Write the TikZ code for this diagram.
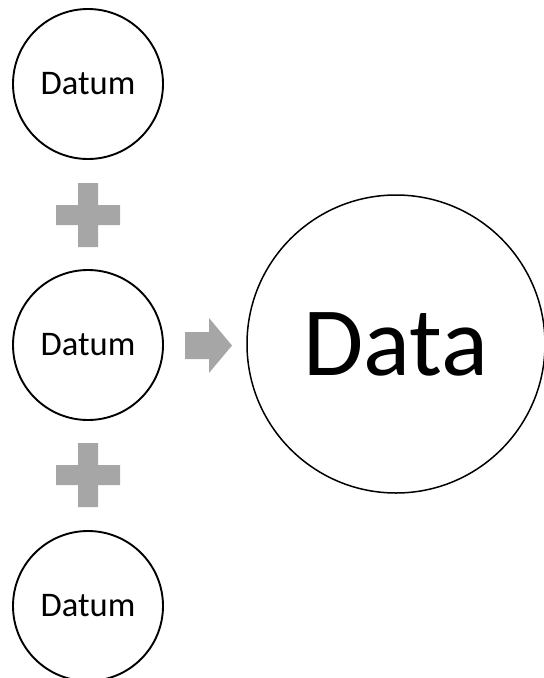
\documentclass[tikz,border=0pt]{standalone}
\usepackage{fontspec}
\setmainfont{Carlito}
\definecolor{plusgray}{HTML}{A6A6A6}

\begin{document}
\begin{tikzpicture}[x=1pt, y=-1pt]
\tikzset{
    datum/.style={circle, draw, line width=1.9pt, minimum size=150pt, inner sep=0pt,
        font=\fontsize{34.5}{40}\selectfont},
    data/.style={circle, draw, line width=1.5pt, minimum size=298pt, inner sep=0pt,
        font=\fontsize{98}{110}\selectfont},
    plus sign/.style={fill=plusgray}
}
    \useasboundingbox (0,0) rectangle (544,678);

    \node[datum](Datum1) at (88,84) {Datum};
    \node[datum](Datum2) at (88,345) {Datum};
    \node[datum](Datum3) at (88,606) {Datum};
    \node[data](Data) at (396,344) {Data};

    \coordinate (Plus1) at (88,215);
    \coordinate (Plus2) at (88,475);
    \foreach \p in {Plus1, Plus2}{
        \fill[plus sign] (\p) ++(-32,-10) -- ++(22,0) -- ++(0,-22) -- ++(20,0) -- ++(0,22)
            -- ++(22,0) -- ++(0,20) -- ++(-22,0) -- ++(0,22) -- ++(-20,0) -- ++(0,-22)
            -- ++(-22,0) -- cycle;
    }

    \coordinate (Fleche) at (185,345);
    \fill[plusgray] (Fleche) ++(0,-13) -- ++(24,0) -- ++(0,-14) -- ++(23,27.5)
        -- ++(-23,27.5) -- ++(0,-14) -- ++(-24,0) -- cycle;
\end{tikzpicture}
\end{document}
